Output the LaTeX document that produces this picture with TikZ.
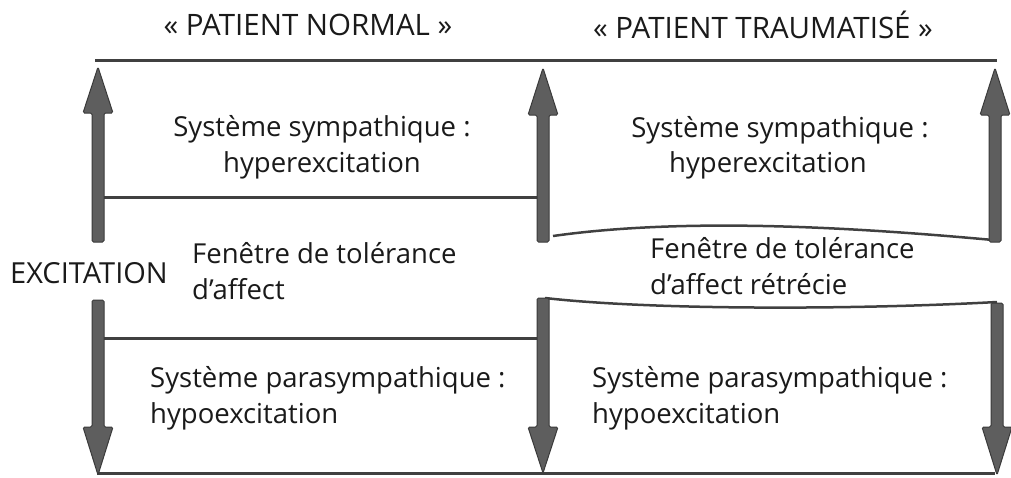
\documentclass[tikz,border=0pt]{standalone}
\usepackage{fontspec}
\setmainfont{Open Sans}
\definecolor{linegray}{HTML}{404040}
\definecolor{arrowgray}{HTML}{5E5E5E}
\definecolor{arrowdark}{HTML}{3A3A3A}
\definecolor{txt}{HTML}{1A1A1A}
\tikzset{
  hline/.style={draw=linegray, line width=3pt},
  bigarrow/.style={fill=arrowgray, draw=arrowdark, line width=1pt, rounded corners=1.5pt},
  lbl/.style={font=\fontsize{27.5}{36}\selectfont, text=txt, inner sep=0pt},
  ttl/.style={font=\fontsize{29.5}{35}\selectfont, text=txt, inner sep=0pt},
}
\newcommand\vertarrow[4]{% x, tip y, head base y, tail y
  \filldraw[bigarrow] (#1,#2) -- (#1+15,#3) -- (#1+6,#3) -- (#1+6,#4) -- (#1-6,#4) -- (#1-6,#3) -- (#1-15,#3) -- cycle;}
\begin{document}
\begin{tikzpicture}[x=1pt,y=-1pt]
\useasboundingbox (0,0) rectangle (1011,477);
% lines
\draw[hline] (95,60) -- (997,60);
\draw[hline] (97,473) -- (995,473);
\draw[hline] (104,197) -- (540,197);
\draw[hline] (104,338) -- (540,338);
\draw[linegray, line width=2.5pt] (553,236) .. controls (680,218) and (840,226) .. (993,240);
\draw[linegray, line width=2.5pt] (545,298) .. controls (650,310) and (850,310) .. (997,302);
% arrows
\vertarrow{98}{67}{113}{242}
\vertarrow{543}{68}{115}{242}
\vertarrow{995}{68}{115}{242}
\vertarrow{98}{475}{427}{300}
\vertarrow{543}{473}{427}{298}
\vertarrow{997}{475}{427}{303}
% texts
\node[ttl] (t1) at (308,25) {« PATIENT NORMAL »};
\node[ttl] (t2) at (763,25) {« PATIENT TRAUMATISÉ »};
\node[lbl, align=center] (s1) at (322,147) {Système sympathique :\\hyperexcitation};
\node[lbl] (s2a) at (780,130) {Système sympathique :};
\node[lbl] (s2b) at (768,165) {hyperexcitation};
\node[lbl, anchor=west, font=\fontsize{29}{36}\selectfont] (ex) at (10,273) {EXCITATION};
\node[lbl, anchor=west, align=left] (f1) at (192,271) {Fenêtre de tolérance\\d’affect};
\node[lbl, anchor=west, align=left] (f2) at (650,266) {Fenêtre de tolérance\\d’affect rétrécie};
\node[lbl, anchor=west, align=left] (p1) at (150,398) {Système parasympathique :\\hypoexcitation};
\node[lbl, anchor=west, align=left] (p2) at (592,398) {Système parasympathique :\\hypoexcitation};
\end{tikzpicture}
\end{document}
